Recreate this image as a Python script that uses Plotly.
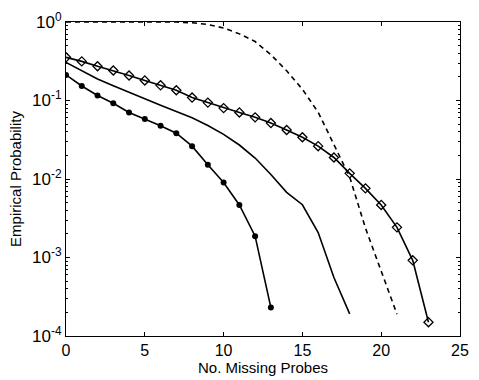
import plotly.graph_objects as go

x_diamond = list(range(0, 24))
p_diamond = [0.355, 0.315, 0.273, 0.241, 0.208, 0.180, 0.156, 0.135, 0.109, 0.094,
             0.080, 0.0705, 0.061, 0.0516, 0.0421, 0.034, 0.0262, 0.0188, 0.0118,
             0.0076, 0.00467, 0.00242, 0.00092, 0.000150]

x_dot = list(range(0, 14))
p_dot = [0.212, 0.153, 0.116, 0.0923, 0.0704, 0.058, 0.0477, 0.0383, 0.0262,
         0.0152, 0.00904, 0.00467, 0.00187, 0.00023]

x_solid = list(range(0, 19))
p_solid = [0.306, 0.241, 0.188, 0.154, 0.126, 0.105, 0.087, 0.0732, 0.0604, 0.048,
           0.037, 0.0271, 0.0185, 0.0114, 0.00676, 0.0047, 0.00208, 0.000555, 0.000191]

x_dash = list(range(0, 22))
p_dash = [1.0, 1.0, 1.0, 1.0, 1.0, 1.0, 1.0, 0.998, 0.977, 0.93, 0.84, 0.706, 0.564,
          0.384, 0.239, 0.139, 0.071, 0.028, 0.0106, 0.00237, 0.00065, 0.00019]

x_ticks = [0, 5, 10, 15, 20, 25]
y_ticks = [1e-4, 1e-3, 1e-2, 1e-1, 1]
y_ticktext = ["10<sup>-4</sup>", "10<sup>-3</sup>", "10<sup>-2</sup>", "10<sup>-1</sup>", "10<sup>0</sup>"]

minor_vals = [m * 10 ** e for e in range(-4, 0) for m in range(2, 10)]

fig = go.Figure()
fig.add_trace(go.Scatter(x=x_dash, y=p_dash, mode="lines",
                         line=dict(color="black", width=1.6, dash="5px,4px")))
fig.add_trace(go.Scatter(x=x_solid, y=p_solid, mode="lines",
                         line=dict(color="black", width=1.6)))
fig.add_trace(go.Scatter(x=x_dot, y=p_dot, mode="lines+markers",
                         line=dict(color="black", width=1.6),
                         marker=dict(symbol="circle", size=6, color="black")))
fig.add_trace(go.Scatter(x=x_diamond, y=p_diamond, mode="lines+markers",
                         line=dict(color="black", width=1.6),
                         marker=dict(symbol="diamond-open", size=7, color="black",
                                     line=dict(width=1.3, color="black"))))

font = dict(family="Liberation Sans, Arial, sans-serif", size=14, color="black")

fig.update_layout(
    width=479, height=380,
    margin=dict(l=66, r=10, t=22, b=41),
    paper_bgcolor="white", plot_bgcolor="white",
    showlegend=False,
    font=font,
)
fig.update_xaxes(
    range=[0, 25], tickvals=x_ticks, ticks="inside", ticklen=4, tickwidth=1,
    tickcolor="black", showline=True, linecolor="black", linewidth=1.2,
    mirror="ticks", showgrid=False, zeroline=False,
    title=dict(text="No. Missing Probes", standoff=0, font=dict(size=15)),
    tickfont=dict(size=16),
)
fig.update_yaxes(
    type="log", range=[-4, 0], tickvals=y_ticks, ticktext=y_ticktext,
    ticks="inside", ticklen=4, tickwidth=1, tickcolor="black",
    showline=True, linecolor="black", linewidth=1.2, mirror="ticks",
    showgrid=False, zeroline=False,
    minor=dict(tickvals=minor_vals, ticks="inside", ticklen=2, tickcolor="black", showgrid=False),
    title=dict(text="Empirical Probability", standoff=6, font=dict(size=15)),
    tickfont=dict(size=17),
)

fig.write_html("out.html")
